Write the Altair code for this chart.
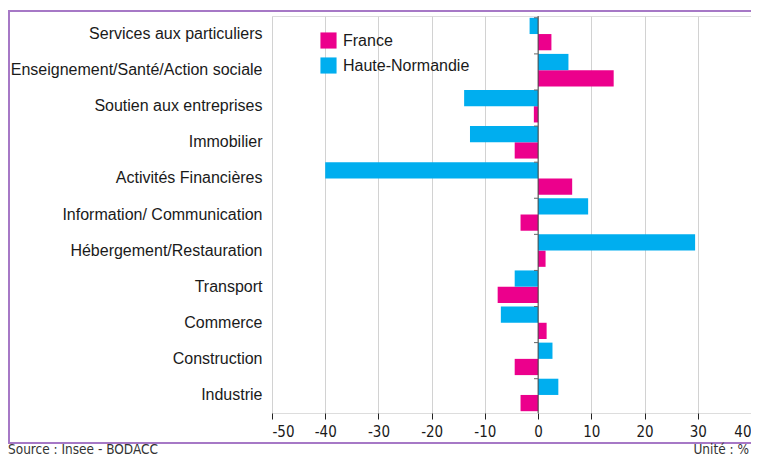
import altair as alt
import pandas as pd

categories = [
    "Services aux particuliers",
    "Enseignement/Santé/Action sociale",
    "Soutien aux entreprises",
    "Immobilier",
    "Activités Financières",
    "Information/ Communication",
    "Hébergement/Restauration",
    "Transport",
    "Commerce",
    "Construction",
    "Industrie",
]
france = [2.5, 14.2, -0.8, -4.4, 6.4, -3.3, 1.4, -7.6, 1.6, -4.4, -3.3]
haute_normandie = [-1.6, 5.7, -13.9, -12.8, -40.0, 9.4, 29.5, -4.4, -7.0, 2.7, 3.8]
series = ["France", "Haute-Normandie"]
colors = ["#ec008c", "#00aeef"]
x_ticks = [-50, -40, -30, -20, -10, 0, 10, 20, 30, 40]

rows = []
for c, f, h in zip(categories, france, haute_normandie):
    rows.append({"cat": c, "serie": "France", "val": f})
    rows.append({"cat": c, "serie": "Haute-Normandie", "val": h})
df = pd.DataFrame(rows)
cat_df = pd.DataFrame({"cat": categories})

W, H = 479, 397
FONT = "Liberation Sans"
NARROW = "Liberation Sans Narrow, DejaVu Sans Condensed, sans-serif"

xscale = alt.Scale(domain=[-50, 40], nice=False, zero=False)
yscale = alt.Scale(domain=categories, paddingInner=0.1, paddingOuter=0.05)

bars = alt.Chart(df).mark_bar(cornerRadius=0).encode(
    x=alt.X("val:Q", scale=xscale,
            axis=alt.Axis(values=x_ticks, title=None, grid=True, gridColor="#d2d2d2",
                          gridWidth=1, domain=False, ticks=True, tickColor="#222",
                          tickSize=6, tickWidth=1, labelFont=NARROW, labelFontSize=15,
                          labelColor="#1a1a1a", labelPadding=5,
                          labelExpr="toString(datum.value)")),
    y=alt.Y("cat:N", scale=yscale, sort=categories,
            axis=alt.Axis(title=None, ticks=False, domain=False, grid=False,
                          labelFont=FONT, labelFontSize=16, labelColor="#1a1a1a",
                          labelPadding=10, labelLimit=300)),
    yOffset=alt.YOffset("serie:N", scale=alt.Scale(domain=["Haute-Normandie", "France"],
                                                    paddingInner=0, paddingOuter=0)),
    color=alt.Color("serie:N", scale=alt.Scale(domain=series, range=colors),
                    legend=alt.Legend(title=None, orient="none", legendX=48, legendY=16,
                                      symbolType="square", symbolSize=260,
                                      symbolStrokeWidth=0, labelFont=FONT,
                                      labelFontSize=16, labelColor="#1a1a1a",
                                      rowPadding=8, labelOffset=6)),
)

zero = alt.Chart(pd.DataFrame({"v": [0]})).mark_rule(color="#444", strokeWidth=1).encode(
    x=alt.X("v:Q", scale=xscale)
)

yticks = alt.Chart(cat_df).mark_rule(color="#666", strokeWidth=1).encode(
    y=alt.Y("cat:N", scale=yscale, sort=categories, bandPosition=0),
    x=alt.value(262),
    x2=alt.value(266),
)

border = alt.Chart(pd.DataFrame({"k": [0]})).mark_rule(color="#a678c6", strokeWidth=2)
border_top = border.encode(x=alt.value(-264), x2=alt.value(500), y=alt.value(-5))
border_bot = border.encode(x=alt.value(-264), x2=alt.value(500), y=alt.value(427))
border_left = border.encode(x=alt.value(-263), y=alt.value(-5), y2=alt.value(427))

src = alt.Chart(pd.DataFrame({"t": ["Source : Insee - BODACC"]})).mark_text(
    align="left", baseline="bottom", font=NARROW, fontSize=13.5, color="#333"
).encode(text="t:N", x=alt.value(-264), y=alt.value(441))

unit = alt.Chart(pd.DataFrame({"t": ["Unité : %"]})).mark_text(
    align="right", baseline="bottom", font=NARROW, fontSize=13.5, color="#333"
).encode(text="t:N", x=alt.value(477), y=alt.value(441))

chart = alt.layer(border_top, border_bot, border_left, bars, zero, yticks, src, unit).properties(
    width=W, height=H,
    autosize=alt.AutoSizeParams(type="none"),
    padding={"left": 264, "top": 8, "right": 0, "bottom": 45},
).configure_view(stroke="#222", strokeWidth=1.5).configure(background="white")

chart.save("out.html", embed_options={"renderer": "svg", "actions": False})
